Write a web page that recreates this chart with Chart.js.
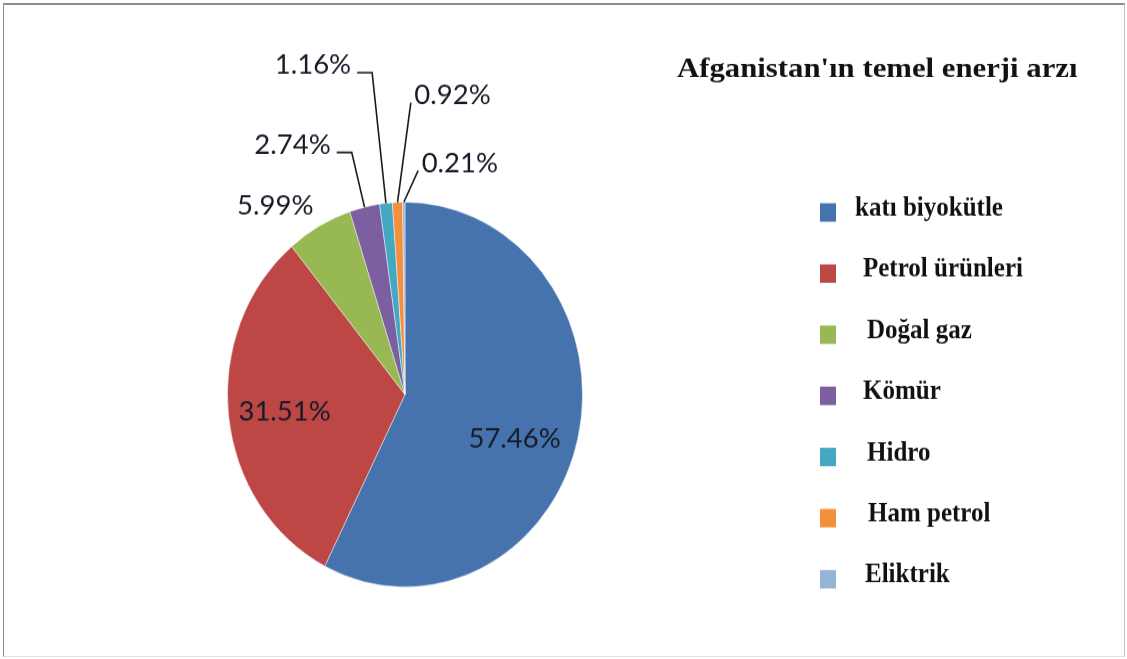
<!DOCTYPE html>
<html>
<head>
<meta charset="utf-8">
<script src="https://cdn.jsdelivr.net/npm/chart.js@4.4.0/dist/chart.umd.min.js"></script>
<style>
  html, body { margin: 0; padding: 0; background: #fff; overflow: hidden; }
  #wrap { position: absolute; left: 0; top: 0; width: 1127px; height: 608px; transform: scaleY(1.0839); transform-origin: 0 0; }
  #frame { position: absolute; left: 3px; top: 3px; width: 1120px; height: 651px;
    border-top: 2px solid #8c8c8c; border-left: 1px solid #8c8c8c; border-right: 1px solid #c4c4c4; border-bottom: 1px solid #e2e2e2; }
</style>
</head>
<body>
<div id="wrap"><canvas id="pie" width="1127" height="608"></canvas></div>
<div id="frame"></div>
<script>
const categories = ['katı biyokütle', 'Petrol ürünleri', 'Doğal gaz', 'Kömür', 'Hidro', 'Ham petrol', 'Eliktrik'];
const shares = [57.46, 31.51, 5.99, 2.74, 1.16, 0.92, 0.21];
const pctLabels = ['57.46%', '31.51%', '5.99%', '2.74%', '1.16%', '0.92%', '0.21%'];
const sliceColors = ['#4673ae', '#bc4744', '#97b853', '#7b5f9f', '#45a8c3', '#f48f3e', '#95b3d7'];
const titleText = "Afganistan'ın temel enerji arzı";

// where each % label sits, relative to the outer edge of its slice (dx, dy) and how it is tied to it
const labelPlace = [
	{ dx: -63, dy: -1, lead: 'none' },
	{ dx: 56, dy: -5, lead: 'none' },
	{ dx: -44, dy: -19.5, lead: 'none' },
	{ dx: -72, dy: -58, lead: 'left' },
	{ dx: -73, dy: -128, lead: 'left' },
	{ dx: 55, dy: -99.5, lead: 'right' },
	{ dx: 56, dy: -36.6, lead: 'right' }
];
const legendTextX = [855, 863, 867, 863, 867, 868, 865];

function drawText(ctx, txt, x, y, font, sx, align) {
	ctx.save();
	ctx.font = font;
	ctx.textBaseline = 'alphabetic';
	ctx.textAlign = align || 'left';
	ctx.translate(x, y);
	ctx.scale(sx, 1);
	ctx.fillText(txt, 0, 0);
	ctx.restore();
}

const annotations = {
	id: 'annotations',
	afterDraw(chart) {
		const ctx = chart.ctx;
		const meta = chart.getDatasetMeta(0);
		const pctFont = '25px Lato';
		const pctScale = 1.1;
		ctx.fillStyle = '#161b28';
		ctx.strokeStyle = '#1a1a1a';
		ctx.lineWidth = 1.6;

		meta.data.forEach(function(arc, i) {
			const p = arc.getProps(['x', 'y', 'startAngle', 'endAngle', 'outerRadius'], true);
			const mid = (p.startAngle + p.endAngle) / 2;
			const ax = p.x + Math.cos(mid) * p.outerRadius;
			const ay = p.y + Math.sin(mid) * p.outerRadius;
			const place = labelPlace[i];
			const cx = ax + place.dx;
			const cy = ay + place.dy;
			ctx.font = pctFont;
			const w = ctx.measureText(pctLabels[i]).width * pctScale;
			drawText(ctx, pctLabels[i], cx, cy + 8.8, pctFont, pctScale, 'center');

			ctx.beginPath();
			if (place.lead === 'left') {
				const right = cx + w / 2;
				ctx.moveTo(right + 6, cy + 7.5);
				ctx.lineTo(right + 21, cy + 7.5);
				ctx.lineTo(ax, ay);
				ctx.stroke();
			} else if (place.lead === 'right') {
				const left = cx - w / 2;
				ctx.moveTo(left - 3.5, cy + 7.5);
				ctx.lineTo(ax, ay);
				ctx.stroke();
			}
		});

		// title
		ctx.fillStyle = '#111';
		drawText(ctx, titleText, 677, 71, 'bold 25px "Liberation Serif"', 1.23, 'left');

		// legend
		const colors = chart.data.datasets[0].backgroundColor;
		chart.data.labels.forEach(function(lbl, i) {
			const yc = 196 + i * 56.4;
			ctx.fillStyle = colors[i];
			ctx.fillRect(820, yc - 8.5, 16, 17);
			ctx.fillStyle = '#111';
			drawText(ctx, lbl, legendTextX[i], yc + 3, 'bold 25px "Liberation Serif"', 1, 'left');
		});
	}
};

new Chart(document.getElementById('pie'), {
	type: 'pie',
	data: {
		labels: categories,
		datasets: [{
			data: shares,
			backgroundColor: sliceColors,
			borderColor: 'rgba(255,255,255,0.45)',
			borderWidth: 1
		}]
	},
	options: {
		responsive: false,
		animation: false,
		events: [],
		layout: { padding: { left: 227, right: 544, top: 186, bottom: 66 } },
		plugins: {
			legend: { display: false },
			title: { display: false },
			tooltip: { enabled: false }
		}
	},
	plugins: [annotations]
});
</script>
</body>
</html>
